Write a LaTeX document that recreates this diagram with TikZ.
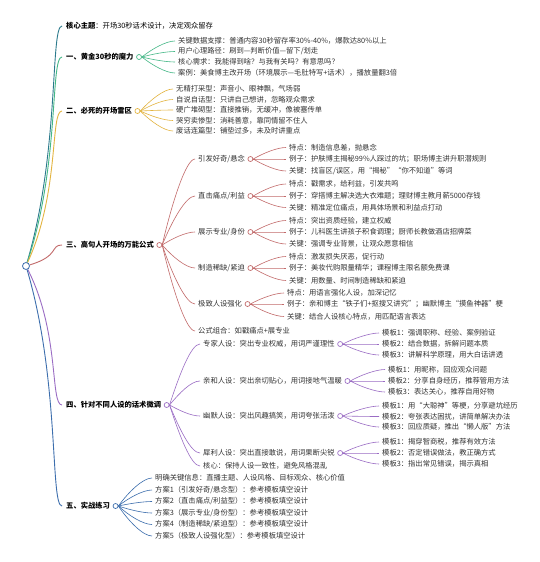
\documentclass[tikz,border=0pt]{standalone}
\usepackage{fontspec}
\newfontfamily\cjkf{Noto Sans CJK SC}
\usetikzlibrary{calc,positioning,backgrounds}
\definecolor{cteal}{HTML}{2B7A8C}
\definecolor{cgreen}{HTML}{45B887}
\definecolor{cyell}{HTML}{E3B440}
\definecolor{crose}{HTML}{C26A6A}
\definecolor{cpurp}{HTML}{9A6CC4}
\definecolor{cblue}{HTML}{3C6EAD}
\definecolor{ctext}{HTML}{333333}
\tikzset{
  txt/.style={anchor=west, inner sep=0pt, text=ctext, font=\cjkf\fontsize{7.3}{9}\selectfont},
  hdr/.style={anchor=west, inner sep=0pt, text=black, font=\cjkf\bfseries\fontsize{7.3}{9}\selectfont},
  dot/.style={circle, draw=#1, fill=white, inner sep=0pt, minimum size=5pt, line width=0.7pt},
  br/.style={draw=#1, line width=0.9pt},
  sb/.style={draw=#1, line width=0.6pt},
}
\newcommand\mmconn[3]{\draw[sb=#1] (#2.east) .. controls ($(#2.east)!0.5!(#2.east|-#3.west)+(10,0)$) and ($(#3.west)+(-12,0)$) .. ($(#3.west)+(-3,0)$);}
\newcommand\mmroot[2]{\draw[br=#1] (root) .. controls ($(root)!0.48!(root|-#2.west)+(34,0)$) and ($(#2.west)+(-16,0)$) .. ($(#2.west)+(-4,0)$);}
\begin{document}
\begin{tikzpicture}[x=1pt,y=-1pt]
\useasboundingbox (0,0) rectangle (540,562);

\node[circle, draw=cblue, fill=white, inner sep=0pt, minimum size=7pt, line width=0.8pt] (root) at (26,266) {};

% level 1
\node[txt, text=black] (s0) at (66,26) {{\bfseries 核心主题}：开场30秒话术设计，决定观众留存};
\node[hdr] (s1) at (66,57) {一、黄金30秒的魔力};
\node[dot=cgreen, right=2.5pt of s1] (d1) {};
\node[hdr] (s2) at (66,111) {二、必死的开场雷区};
\node[dot=cyell, right=2.5pt of s2] (d2) {};
\node[hdr] (s3) at (66,245) {三、高句人开场的万能公式};
\node[dot=crose, right=2.5pt of s3] (d3) {};
\node[hdr] (s4) at (66,405) {四、针对不同人设的话术微调};
\node[dot=cpurp, right=2.5pt of s4] (d4) {};
\node[hdr] (s5) at (66,506) {五、实战练习};
\node[dot=cblue, right=2.5pt of s5] (d5) {};

% section 1
\node[txt] (s1a) at (178,41) {关键数据支撑：普通内容30秒留存率30\%-40\%，爆款达80\%以上};
\node[txt] (s1b) at (178,51.5) {用户心理路径：刷到—判断价值—留下/划走};
\node[txt] (s1c) at (178,62) {核心需求：我能得到啥？与我有关吗？有意思吗？};
\node[txt] (s1d) at (178,73) {案例：美食博主改开场（环境展示—毛肚特写+话术），播放量翻3倍};

% section 2
\node[txt] (s2a) at (176,89) {无精打采型：声音小、眼神飘，气场弱};
\node[txt] (s2b) at (176,99.5) {自说自话型：只讲自己想讲，忽略观众需求};
\node[txt] (s2c) at (176,110) {硬广堆砌型：直接推销，无缓冲，像被塞传单};
\node[txt] (s2d) at (176,120.5) {哭穷卖惨型：消耗善意，靠同情留不住人};
\node[txt] (s2e) at (176,131) {废话连篇型：铺垫过多，未及时讲重点};

% section 3
\node[txt] (s3a) at (198,159) {引发好奇/悬念};
\node[dot=crose, right=2.5pt of s3a] (d3a) {};
\node[txt] (s3b) at (198,196) {直击痛点/利益};
\node[dot=crose, right=2.5pt of s3b] (d3b) {};
\node[txt] (s3c) at (198,232) {展示专业/身份};
\node[dot=crose, right=2.5pt of s3c] (d3c) {};
\node[txt] (s3d) at (198,268) {制造稀缺/紧迫};
\node[dot=crose, right=2.5pt of s3d] (d3d) {};
\node[txt] (s3e) at (198,304) {极致人设强化};
\node[dot=crose, right=2.5pt of s3e] (d3e) {};
\node[txt] (s3f) at (198,331) {公式组合：如戳痛点+展专业};

\node[txt] (s3a1) at (289,147.5) {特点：制造信息差，抛悬念};
\node[txt] (s3a2) at (289,159) {例子：护肤博主揭秘99\%人踩过的坑；职场博主讲升职潜规则};
\node[txt] (s3a3) at (289,171) {关键：找盲区/误区，用“揭秘”“你不知道”等词};
\node[txt] (s3b1) at (289,184) {特点：戳需求，给利益，引发共鸣};
\node[txt] (s3b2) at (289,196) {例子：穿搭博主解决选大衣难题；理财博主教月薪5000存钱};
\node[txt] (s3b3) at (289,207.5) {关键：精准定位痛点，用具体场景和利益点打动};
\node[txt] (s3c1) at (289,220.5) {特点：突出资质经验，建立权威};
\node[txt] (s3c2) at (289,232) {例子：儿科医生讲孩子积食调理；厨师长教做酒店招牌菜};
\node[txt] (s3c3) at (289,244) {关键：强调专业背景，让观众愿意相信};
\node[txt] (s3d1) at (289,256.5) {特点：激发损失厌恶，促行动};
\node[txt] (s3d2) at (289,268) {例子：美妆代购限量精华；课程博主限名额免费课};
\node[txt] (s3d3) at (289,280.5) {关键：用数量、时间制造稀缺和紧迫};
\node[txt] (s3e1) at (287,293) {特点：用语言强化人设，加深记忆};
\node[txt] (s3e2) at (287,304) {例子：亲和博主“铁子们+抠搜又讲究”；幽默博主“摸鱼神器”梗};
\node[txt] (s3e3) at (287,316.5) {关键：结合人设核心特点，用匹配语言表达};

% section 4
\node[txt] (s4a) at (203,344) {专家人设：突出专业权威，用词严谨理性};
\node[dot=cpurp, right=2.5pt of s4a] (d4a) {};
\node[txt] (s4b) at (203,381) {亲和人设：突出亲切贴心，用词接地气温暖};
\node[dot=cpurp, right=2.5pt of s4b] (d4b) {};
\node[txt] (s4c) at (203,416) {幽默人设：突出风趣搞笑，用词夸张活泼};
\node[dot=cpurp, right=2.5pt of s4c] (d4c) {};
\node[txt] (s4d) at (203,453) {犀利人设：突出直接敢说，用词果断尖锐};
\node[dot=cpurp, right=2.5pt of s4d] (d4d) {};
\node[txt] (s4e) at (203,466) {核心：保持人设一致性，避免风格混乱};

\node[txt] (s4a1) at (382,333) {模板1：强调职称、经验、案例验证};
\node[txt] (s4a2) at (382,344) {模板2：结合数据，拆解问题本质};
\node[txt] (s4a3) at (382,355) {模板3：讲解科学原理，用大白话讲透};
\node[txt] (s4b1) at (388,369.5) {模板1：用昵称，回应观众问题};
\node[txt] (s4b2) at (388,381) {模板2：分享自身经历，推荐管用方法};
\node[txt] (s4b3) at (388,392) {模板3：表达关心，推荐自用好物};
\node[txt] (s4c1) at (382,406) {模板1：用“大聪神”等梗，分享避坑经历};
\node[txt] (s4c2) at (382,416.5) {模板2：夸张表达困扰，讲简单解决办法};
\node[txt] (s4c3) at (382,427) {模板3：回应质疑，推出“懒人版”方法};
\node[txt] (s4d1) at (382,442) {模板1：揭穿智商税，推荐有效方法};
\node[txt] (s4d2) at (382,453) {模板2：否定错误做法，教正确方式};
\node[txt] (s4d3) at (382,464) {模板3：指出常见错误，揭示真相};

% section 5
\node[txt] (s5a) at (155,478) {明确关键信息：直播主题、人设风格、目标观众、核心价值};
\node[txt] (s5b) at (155,490) {方案1（引发好奇/悬念型）：参考模板填空设计};
\node[txt] (s5c) at (155,501.5) {方案2（直击痛点/利益型）：参考模板填空设计};
\node[txt] (s5d) at (155,513) {方案3（展示专业/身份型）：参考模板填空设计};
\node[txt] (s5e) at (155,524.5) {方案4（制造稀缺/紧迫型）：参考模板填空设计};
\node[txt] (s5f) at (155,536) {方案5（极致人设强化型）：参考模板填空设计};

\begin{scope}[on background layer]
\fill[white] (0,0) rectangle (540,562);
\mmroot{cteal}{s0}
\mmroot{cgreen}{s1}
\mmroot{cyell}{s2}
\mmroot{crose}{s3}
\mmroot{cpurp}{s4}
\mmroot{cblue}{s5}
\foreach \k in {s1a,s1b,s1c,s1d} {\mmconn{cgreen}{d1}{\k}}
\foreach \k in {s2a,s2b,s2c,s2d,s2e} {\mmconn{cyell}{d2}{\k}}
\foreach \k in {s3a,s3b,s3c,s3d,s3e,s3f} {\mmconn{crose}{d3}{\k}}
\foreach \p in {a,b,c,d,e} {\foreach \q in {1,2,3} {\mmconn{crose}{d3\p}{s3\p\q}}}
\foreach \k in {s4a,s4b,s4c,s4d,s4e} {\mmconn{cpurp}{d4}{\k}}
\foreach \p in {a,b,c,d} {\foreach \q in {1,2,3} {\mmconn{cpurp}{d4\p}{s4\p\q}}}
\foreach \k in {s5a,s5b,s5c,s5d,s5e,s5f} {\mmconn{cblue}{d5}{\k}}
\end{scope}
\end{tikzpicture}
\end{document}
